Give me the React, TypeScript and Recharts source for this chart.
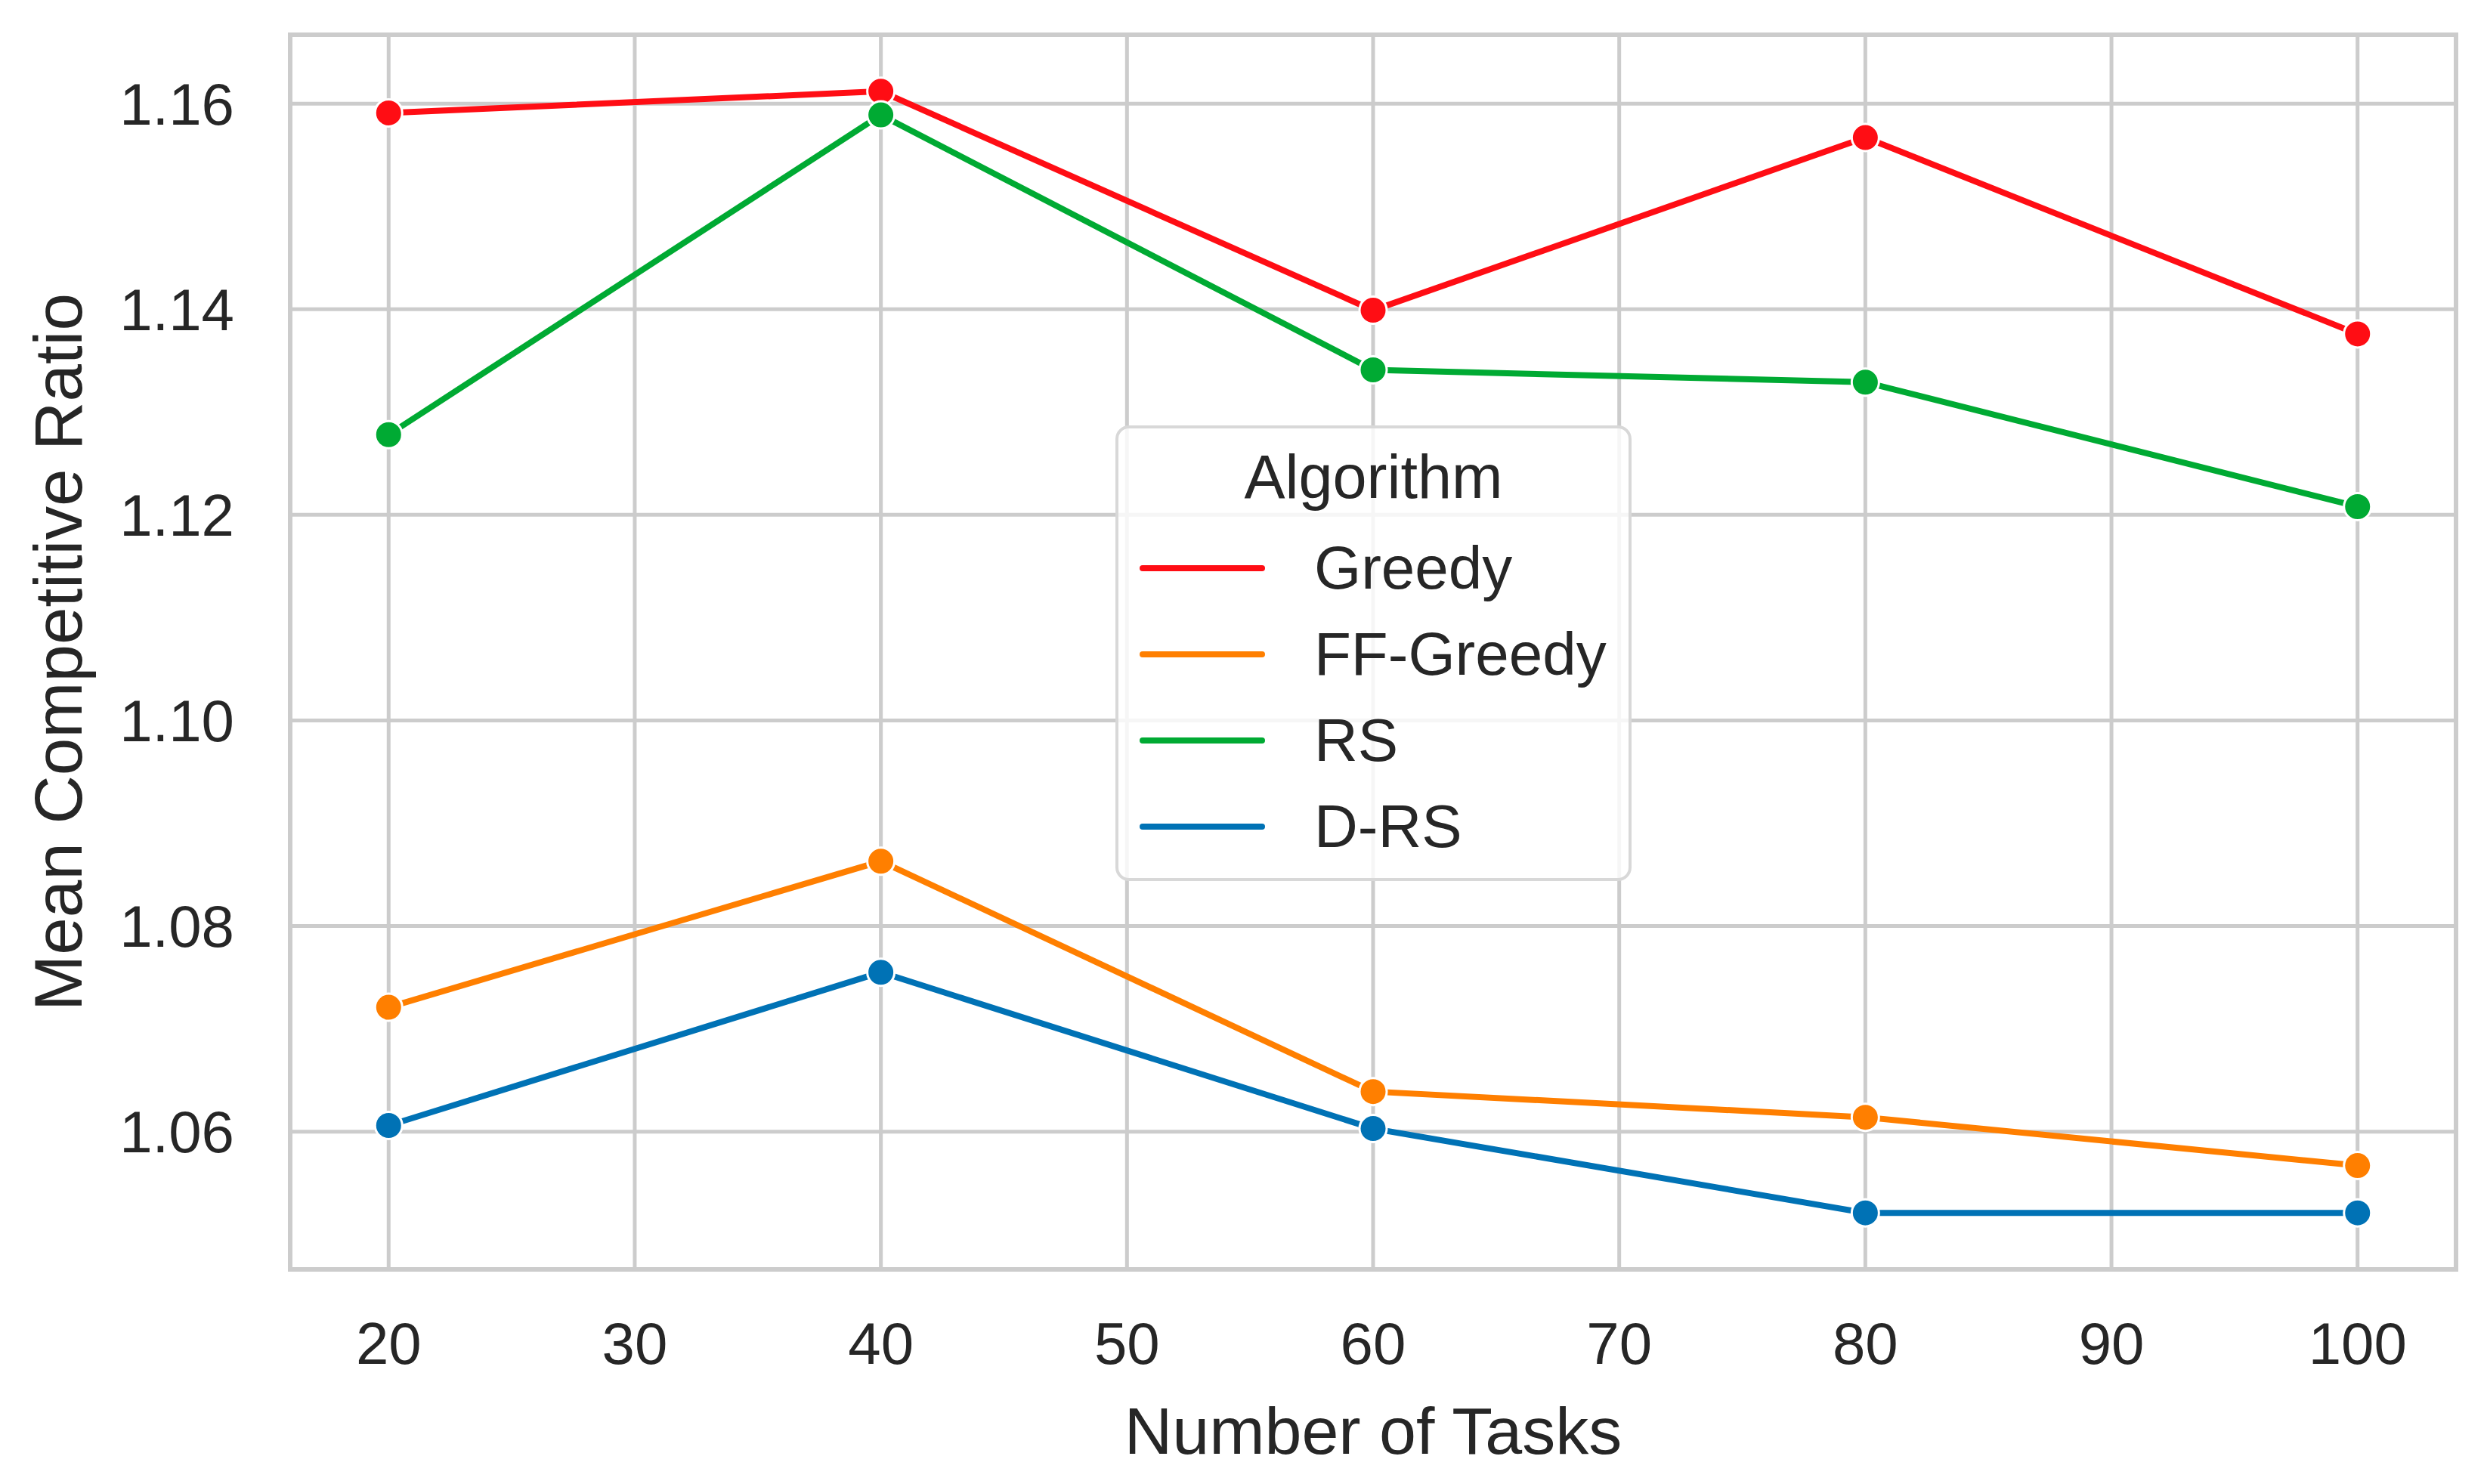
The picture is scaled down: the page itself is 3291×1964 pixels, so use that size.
import React from 'react';
import {
    LineChart, Line, XAxis, YAxis, CartesianGrid, Legend, ReferenceArea, Label
} from 'recharts';

// values
const tasks = [20, 40, 60, 80, 100];
const greedy = [1.1591, 1.1612, 1.1399, 1.1567, 1.1376];
const ffGreedy = [1.0721, 1.0863, 1.0639, 1.0614, 1.0567];
const rs = [1.1278, 1.1589, 1.1341, 1.1329, 1.1208];
const dRs = [1.0606, 1.0755, 1.0603, 1.0521, 1.0521];

const xTicks = [20, 30, 40, 50, 60, 70, 80, 90, 100];
const yTicks = [1.06, 1.08, 1.10, 1.12, 1.14, 1.16];
const xDomain = [16, 104];
const yDomain = [1.0466, 1.1667];

const series = [
    { key: 'greedy', name: 'Greedy', color: '#ff0d14' },
    { key: 'ffGreedy', name: 'FF-Greedy', color: '#ff7f00' },
    { key: 'rs', name: 'RS', color: '#00aa33' },
    { key: 'dRs', name: 'D-RS', color: '#0072b5' },
];

const data = tasks.map((t, i) => ({
    tasks: t,
    greedy: greedy[i],
    ffGreedy: ffGreedy[i],
    rs: rs[i],
    dRs: dRs[i],
}));

const FONT = '"Liberation Sans", Arial, sans-serif';
const TEXT = '#262626';
const GRID = '#cccccc';

const AlgorithmLegend = () => (
    <div style={{
        boxSizing: 'border-box', width: 683, height: 603,
        border: `4px solid #d8d8d8`, borderRadius: 18,
        background: 'rgba(255,255,255,0.82)', fontFamily: FONT, color: TEXT,
    }}>
        <div style={{ height: 128, lineHeight: '128px', textAlign: 'center', fontSize: 81 }}>Algorithm</div>
        {series.map(s => (
            <div key={s.key} style={{ height: 114, display: 'flex', alignItems: 'center' }}>
                <div style={{ marginLeft: 28, width: 166, height: 8, background: s.color, borderRadius: 4 }} />
                <span style={{ marginLeft: 65, fontSize: 80, lineHeight: 1 }}>{s.name}</span>
            </div>
        ))}
    </div>
);

export default function App() {
    return (
        <div style={{ position: 'absolute', left: 0, top: 0, background: '#fff' }}>
            <LineChart width={3291} height={1964} data={data}
                margin={{ top: 46, right: 41, bottom: 0, left: 0 }}>
                <CartesianGrid stroke={GRID} strokeWidth={5} />
                <ReferenceArea x1={xDomain[0]} x2={xDomain[1]} y1={yDomain[0]} y2={yDomain[1]}
                    fill="none" stroke={GRID} strokeWidth={6} fillOpacity={0} ifOverflow="visible" />
                <XAxis dataKey="tasks" type="number" domain={xDomain} ticks={xTicks}
                    height={284} axisLine={false} tickLine={false} tickSize={0} tickMargin={70}
                    tick={{ fontSize: 78, fill: TEXT, fontFamily: FONT }}>
                    <Label value="Number of Tasks" position="insideBottom" offset={40}
                        style={{ fontSize: 88, fill: TEXT, fontFamily: FONT }} />
                </XAxis>
                <YAxis type="number" domain={yDomain} ticks={yTicks} width={384}
                    allowDataOverflow axisLine={false} tickLine={false} tickSize={0} tickMargin={74}
                    tickFormatter={(v: number) => v.toFixed(2)}
                    tick={{ fontSize: 78, fill: TEXT, fontFamily: FONT }}>
                    <Label value="Mean Competitive Ratio" position="insideLeft" angle={-90} offset={76}
                        style={{ fontSize: 89, fill: TEXT, fontFamily: FONT, textAnchor: 'middle' }} />
                </YAxis>
                {series.map(s => (
                    <Line key={s.key} dataKey={s.key} name={s.name} type="linear"
                        stroke={s.color} strokeWidth={8}
                        dot={{ r: 18, fill: s.color, stroke: '#fff', strokeWidth: 3 }}
                        activeDot={false} isAnimationActive={false} />
                ))}
                <Legend layout="horizontal" verticalAlign="middle" align="center"
                    content={() => <AlgorithmLegend />}
                    wrapperStyle={{ position: 'absolute', left: 1476, top: 563, right: 'auto', bottom: 'auto', width: 683, height: 603, margin: 0 }} />
            </LineChart>
        </div>
    );
}
